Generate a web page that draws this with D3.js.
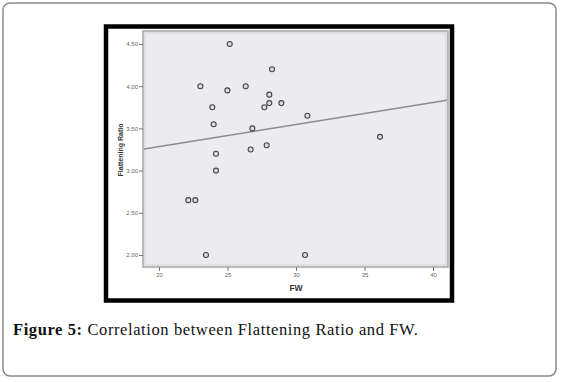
<!DOCTYPE html>
<html><head><meta charset="utf-8">
<script src="https://cdn.jsdelivr.net/npm/d3@7"></script>
<style>html,body{margin:0;padding:0;background:#fff;}svg{display:block;}</style>
</head><body>
<script>
// Data
const fwValues   = [25.16, 28.25, 23.02, 24.99, 26.33, 28.05, 28.05, 28.93, 27.69, 23.89, 23.99, 26.81, 26.69, 27.86, 24.16, 30.83, 36.13, 24.16, 22.14, 22.65, 23.43, 30.66];
const ratioValues = [4.50, 4.20, 4.00, 3.95, 4.00, 3.90, 3.80, 3.80, 3.75, 3.75, 3.55, 3.50, 3.25, 3.30, 3.20, 3.65, 3.40, 3.00, 2.65, 2.65, 2.00, 2.00];
const xTicks = [20, 25, 30, 35, 40];
const yTicks = [2.0, 2.5, 3.0, 3.5, 4.0, 4.5];
const fitIntercept = 2.76;
const fitSlope = 0.0262;
const xLabel = "FW";
const yLabel = "Flattening Ratio";
const captionBold = "Figure 5:";
const captionText = " Correlation between Flattening Ratio and FW.";

const W = 561, H = 382;
const svg = d3.select("body").append("svg").attr("width", W).attr("height", H);

// outer rounded frame
svg.append("rect").attr("x", 3).attr("y", 3).attr("width", 553).attr("height", 373)
  .attr("rx", 7).attr("fill", "#fff").attr("stroke", "#8a8a8a").attr("stroke-width", 1.5);

// black image frame
svg.append("rect").attr("x", 106).attr("y", 26.5).attr("width", 346).attr("height", 274)
  .attr("fill", "#fff").attr("stroke", "#000").attr("stroke-width", 4.5);

const plot = {left: 143, right: 448, top: 31, bottom: 267};
const x = d3.scaleLinear().domain([20, 40]).range([159, 433]);
const y = d3.scaleLinear().domain([2.0, 4.5]).range([255, 44]);

// plot background
svg.append("rect").attr("x", plot.left).attr("y", plot.top)
  .attr("width", plot.right - plot.left).attr("height", plot.bottom - plot.top)
  .attr("fill", "#ebebf0").attr("stroke", "#a6a6a6").attr("stroke-width", 1.5);
svg.append("rect").attr("x", plot.left + 2).attr("y", plot.top + 2)
  .attr("width", plot.right - plot.left - 4).attr("height", plot.bottom - plot.top - 4)
  .attr("fill", "none").attr("stroke", "#d4d4d8").attr("stroke-width", 1);

// axes
const xAxis = d3.axisBottom(x).tickValues(xTicks).tickSize(4).tickPadding(2).tickFormat(d3.format("d"));
const gx = svg.append("g").attr("transform", `translate(0,${plot.bottom})`).call(xAxis);
const yAxis = d3.axisLeft(y).tickValues(yTicks).tickSize(4).tickPadding(1).tickFormat(d3.format(".2f"));
const gy = svg.append("g").attr("transform", `translate(${plot.left},0)`).call(yAxis);
[gx, gy].forEach(g => {
  g.select(".domain").remove();
  g.selectAll("line").attr("stroke", "#777").attr("stroke-width", 1);
  g.selectAll("text").attr("fill", "#666").attr("font-family", "Liberation Sans, Arial, sans-serif").attr("font-size", 6);
});

// regression line
const xFull = [x.invert(plot.left + 1), x.invert(plot.right - 1)];
svg.append("line")
  .attr("x1", x(xFull[0])).attr("y1", y(fitIntercept + fitSlope * xFull[0]))
  .attr("x2", x(xFull[1])).attr("y2", y(fitIntercept + fitSlope * xFull[1]))
  .attr("stroke", "#8c8c8c").attr("stroke-width", 1.5);

// points
const pts = fwValues.map((v, i) => ({fw: v, r: ratioValues[i]}));
svg.append("g").selectAll("circle").data(pts).join("circle")
  .attr("cx", d => x(d.fw)).attr("cy", d => y(d.r)).attr("r", 2.5)
  .attr("fill", "#ddd").attr("stroke", "#444").attr("stroke-width", 1.1);

// axis titles
svg.append("text").attr("x", 296).attr("y", 291).attr("text-anchor", "middle")
  .attr("font-family", "Liberation Sans, Arial, sans-serif").attr("font-weight", "bold")
  .attr("font-size", 8.5).attr("fill", "#333").text(xLabel);
svg.append("text").attr("transform", "translate(123,150) rotate(-90)").attr("text-anchor", "middle")
  .attr("font-family", "Liberation Sans, Arial, sans-serif").attr("font-weight", "bold")
  .attr("font-size", 7).attr("fill", "#333").text(yLabel);

// caption
const cap = svg.append("text").attr("x", 13).attr("y", 335)
  .attr("font-family", "Liberation Serif, Times New Roman, serif").attr("font-size", 16.5)
  .attr("letter-spacing", 0.6).attr("fill", "#111");
cap.append("tspan").attr("font-weight", "bold").text(captionBold);
cap.append("tspan").text(captionText);
</script>
</body></html>
